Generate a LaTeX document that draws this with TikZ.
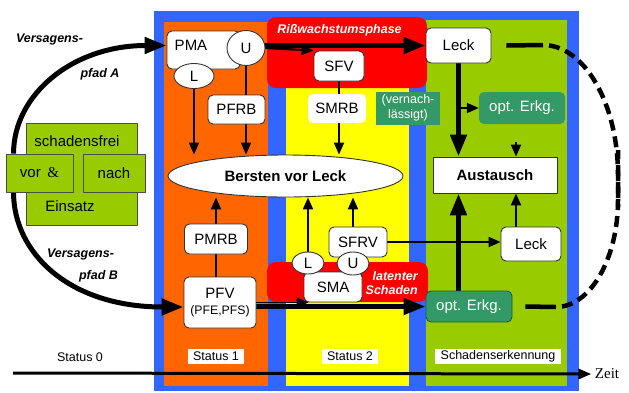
\documentclass[tikz,border=0pt]{standalone}
\usepackage{fontspec}
\setmainfont{Liberation Sans}
\newfontfamily\serif{Liberation Serif}
\usetikzlibrary{arrows.meta,shapes.geometric}
\definecolor{blau}{HTML}{3366FF}
\definecolor{orang}{HTML}{FF6600}
\definecolor{gelb}{HTML}{FFFF00}
\definecolor{gruen}{HTML}{99CC00}
\definecolor{rot}{HTML}{FF0000}
\definecolor{erkg}{HTML}{339966}
\newcommand{\fgross}{\fontsize{15}{16.5}\selectfont}
\newcommand{\fklein}{\fontsize{12.5}{14.5}\selectfont}
\pgfdeclarelayer{back}
\pgfdeclarelayer{mid}
\pgfsetlayers{back,mid,main}

\begin{document}
\begin{tikzpicture}[x=1pt, y=-1pt, line join=round,
 txt/.style={font=\fgross, inner sep=0pt},
 box/.style={draw=black!80, line width=0.9pt, fill=white, rounded corners=5pt, font=\fgross, inner sep=0pt},
 kreis/.style={ellipse, draw=black!80, line width=0.9pt, fill=white, font=\fgross, inner sep=0pt},
 gbox/.style={draw=black!70, line width=0.9pt, fill=gruen, font=\fgross, inner sep=0pt},
 ebox/.style={fill=erkg, rounded corners=5pt, text=white, font=\fgross, inner sep=0pt},
 stat/.style={fill=white, font=\fklein, inner sep=0pt},
 vers/.style={font=\fklein\bfseries\itshape, inner sep=0pt},
 pfeil/.style={line width=2.2pt, -{Triangle[length=12pt,width=10pt]}},
 dick/.style={line width=5pt, -{Triangle[length=22pt,width=16pt]}},
 strich/.style={line width=4.5pt, dash pattern=on 11pt off 6pt, dash phase=11pt}]

\useasboundingbox (0,0) rectangle (629,392);

\begin{pgfonlayer}{back}
\fill[blau] (154,11) rectangle (579,391);
\fill[orang] (164,22) rectangle (268,386);
\fill[gelb] (286,22) rectangle (409,386);
\fill[gruen] (426,20) rectangle (567,386);
\fill[rot, rounded corners=9pt] (267,17) rectangle (427,88);
\fill[rot, rounded corners=9pt] (267,262) rectangle (428,302);
\end{pgfonlayer}

\node[gbox, minimum width=111pt, minimum height=102pt] (frei) at (81.5,174) {};
\node[txt] (freit) at (77,141) {schadensfrei};
\node[txt] (einsatz) at (70,206) {Einsatz};
\node[gbox, minimum width=67pt, minimum height=38pt] (vor) at (39.5,173) {vor\, {\serif\&}};
\node[gbox, minimum width=62pt, minimum height=38pt] (nach) at (114,173) {nach};

\node[vers] (vA1) at (49.5,39) {Versagens-};
\node[vers] (vA2) at (100,74) {pfad A};
\node[vers] (vB1) at (80.5,254) {Versagens-};
\node[vers] (vB2) at (98.5,276) {pfad B};

\node[box, minimum width=73pt, minimum height=38pt] (PMA) at (203.5,50) {};
\node[txt] (PMAt) at (191,45.5) {PMA};
\node[kreis, minimum width=38pt, minimum height=35pt] (U1) at (246,48) {U};
\node[kreis, minimum width=40pt, minimum height=25pt] (L1) at (194,76) {L};
\node[box, minimum width=57pt, minimum height=29pt] (PFRB) at (236.5,109.5) {PFRB};
\node[kreis, minimum width=235pt, minimum height=42pt, font=\fgross\bfseries] (BvL)
 at (285.5,176) {Bersten vor Leck};
\node[box, minimum width=63pt, minimum height=30pt] (PMRB) at (216,239) {PMRB};
\node[box, minimum width=72pt, minimum height=51pt, align=center] (PFV)
 at (220,302.5) {PFV\\[-1pt]{\fontsize{12.3}{13}\selectfont(PFE,PFS)}};

\node[text=white, font=\fklein\bfseries\itshape] (riss) at (339.5,30) {Rißwachstumsphase};
\node[box, minimum width=50pt, minimum height=30pt] (SFV) at (339,66) {SFV};
\node[box, draw=none, minimum width=58pt, minimum height=29pt] (SMRB) at (337,108.5) {SMRB};
\node[fill=erkg, text=white, font=\fklein, align=center, minimum width=64pt,
 minimum height=33pt, inner sep=0pt] (vern) at (408,108) {(vernach-\\lässigt)};

\node[box, minimum width=58pt, minimum height=30pt] (SFRV) at (358,242) {SFRV};
\node[box, minimum width=58pt, minimum height=30pt] (SMA) at (333,287) {SMA};
\node[kreis, minimum width=32pt, minimum height=22pt] (L2) at (308,263) {L};
\node[kreis, minimum width=32pt, minimum height=23pt] (U2) at (353,263.5) {U};
\node[text=white, font=\fklein\bfseries\itshape, align=right, anchor=east, inner sep=0pt] (latent)
 at (418,283) {latenter\\Schaden};

\node[box, minimum width=65pt, minimum height=35pt] (Leck1) at (458.5,45.5) {Leck};
\node[ebox, minimum width=86pt, minimum height=32pt] (optA) at (522,108) {opt. Erkg.};
\node[box, rounded corners=0pt, minimum width=124pt, minimum height=36pt, font=\fgross\bfseries] (Aust)
 at (495,175) {Austausch};
\node[box, minimum width=60pt, minimum height=34pt] (Leck2) at (531,244) {Leck};
\node[ebox, draw=erkg!60!black, line width=0.9pt, minimum width=86pt, minimum height=31pt] (optB)
 at (469,306.5) {opt. Erkg.};

\node[font=\fklein] (s0) at (80,357) {Status 0};
\node[stat, minimum width=56pt, minimum height=15pt] (s1) at (216,356) {Status 1};
\node[stat, minimum width=56pt, minimum height=15pt] (s2) at (350,356) {Status 2};
\node[stat, minimum width=126pt, minimum height=15pt] (s3) at (498,356) {Schadenserkennung};
\node[font=\serif\fgross] (zeit) at (607,374) {Zeit};

\begin{pgfonlayer}{mid}
\draw[dick] ([xshift=8pt]vor.north west) .. controls +(0,-59) and +(-94,0) .. ([yshift=4.5pt]PMA.west);
\draw[dick] ([xshift=8pt]vor.south west) .. controls +(0,60) and +(-115,0) .. ([yshift=-4.5pt]PFV.west);
\draw[dick] (U1.east |- Leck1.west) -- (Leck1.west);
\draw[pfeil] (U1.east) -- (SFV.north west);
\draw[pfeil] (L1.south) -- (L1.south |- BvL.north);
\draw[pfeil] (U1.south) -- (U1.south |- BvL.north);
\draw[pfeil] (SFV.south) -- (SFV.south |- BvL.north);
\draw[pfeil] (PMRB.south |- PFV.north) -- (PMRB.north |- BvL.south);
\draw[pfeil] (L2.north) -- (L2.north |- BvL.south);
\draw[pfeil] (U2.north) -- (U2.north |- BvL.south);
\draw[pfeil] (SFRV.east) -- (SFRV.east -| Leck2.west);
\coordinate (ax) at ([xshift=21pt]Aust.south);
\draw[pfeil] (ax |- Leck2.north) -- (ax);
\draw[pfeil, shorten <=18pt] (ax |- optA.south) -- (ax |- Aust.north);
\draw[dick] (Leck1.south) -- (Leck1.south |- Aust.north);
\draw[pfeil] (Leck1.south |- optA.west) -- (optA.west);
\draw[dick] (Leck1.south |- optB.north) -- (Leck1.south |- Aust.south);
\draw[dick] (PFV.east |- optB.west) -- (optB.west);
\coordinate (d1) at (543,45);
\coordinate (d2) at (618,207);
\coordinate (d3) at (556,307);
\coordinate (d4) at (618,150);
\draw[line width=4.5pt] ([xshift=15pt]Leck1.east) -- (d1);
\draw[strich] (d1) .. controls +(41,0) and +(0,-72) .. (618,175) -- (d2);
\draw[line width=4.5pt] ([xshift=13pt]optB.east) -- (d3);
\draw[strich] (d3) .. controls +(34,0) and +(0,59) .. (618,200) -- (d4);
\end{pgfonlayer}

\draw[pfeil, line width=1.8pt] (PFV.east |- SMA.south) -- ([xshift=5pt]SMA.south west);
\coordinate (t0) at (13,373);
\draw[line width=3pt, -{Triangle[length=13pt,width=10pt]}] (t0) -- (zeit.west);
\end{tikzpicture}
\end{document}
